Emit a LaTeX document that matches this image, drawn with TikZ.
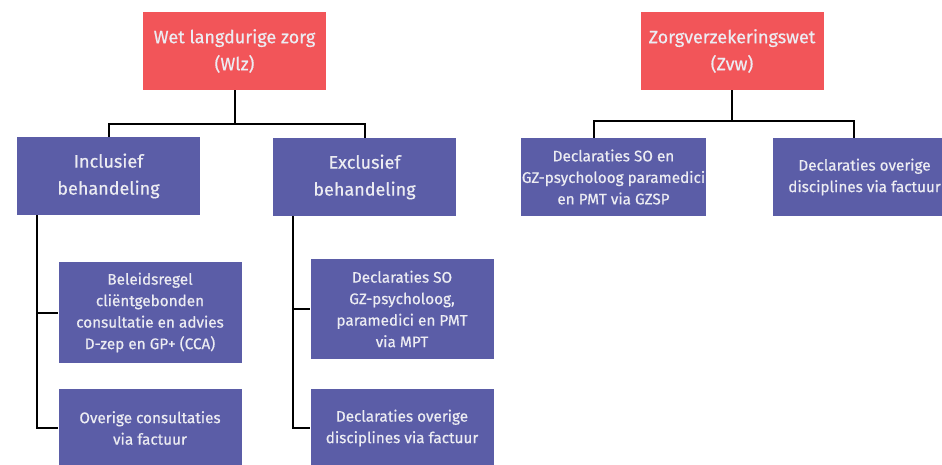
\documentclass[tikz,border=0pt]{standalone}
\usepackage{fontspec}
\setmainfont{Fira Sans}[UprightFeatures={FakeBold=0.5}]
\usetikzlibrary{positioning}
\definecolor{wetred}{HTML}{F25559}
\definecolor{boxblue}{HTML}{5B5DA7}
\definecolor{boxtext}{HTML}{ECECF2}

\begin{document}
\begin{tikzpicture}[x=1pt,y=-1pt]
\clip (0,0) rectangle (942,464);
\useasboundingbox (0,0) rectangle (942,464);
\begin{scope}[every node/.style={fill=wetred,text=boxtext,align=center,
    minimum width=183pt,minimum height=78pt,inner sep=2pt,
    font=\fontsize{18}{27}\selectfont}]
    \node (wlz) at (234.5,51) {Wet langdurige zorg\\(Wlz)};
    \node (zvw) at (732,51) {Zorgverzekeringswet\\(Zvw)};
\end{scope}
\begin{scope}[every node/.style={fill=boxblue,text=boxtext,align=center,
    minimum width=183pt,minimum height=78pt,inner sep=1pt,
    font=\fontsize{18}{27}\selectfont}]
    \node (incl) at (108.5,176) {Inclusief\\behandeling};
    \node (excl) at (364.5,177) {Exclusief\\behandeling};
\end{scope}
\begin{scope}[every node/.style={fill=boxblue,text=boxtext,align=center,
    minimum width=183pt,minimum height=78pt,inner sep=1pt,
    font=\fontsize{15.3}{21.5}\selectfont}]
    \node[minimum height=101pt] (cca) at (150,312.5) {Beleidsregel\\cliëntgebonden\\consultatie en advies\\D-zep en GP+ (CCA)};
    \node (overig) at (150,428) {Overige consultaties\\via factuur};
    \node[minimum height=100pt] (mpt) at (402,309) {Declaraties SO\\GZ-psycholoog,\\paramedici en PMT\\via MPT};
    \node (exfact) at (402,428) {Declaraties overige\\disciplines via factuur};
    \node (gzsp) at (613.5,177) {Declaraties SO en\\GZ-psycholoog paramedici\\en PMT via GZSP};
    \node (zvwfact) at (864.5,177) {Declaraties overige\\disciplines via factuur};
\end{scope}
\begin{scope}[line width=2pt]
    \draw (wlz.south) -- ++(0,34) coordinate (wbar);
    \draw (incl.north) |- (wbar) -| (excl.north);
    \draw (zvw.south) -- ++(0,31) coordinate (zbar);
    \draw ([xshift=-19.5pt]gzsp.north) |- (zbar) -| ([xshift=-10.5pt]zvwfact.north);
    \draw ([xshift=-71.5pt]incl.south) |- (cca.west);
    \draw ([xshift=-71.5pt]incl.south) |- (overig.west);
    \draw ([xshift=-71.5pt]excl.south) |- (mpt.west);
    \draw ([xshift=-71.5pt]excl.south) |- (exfact.west);
\end{scope}
\end{tikzpicture}
\end{document}
